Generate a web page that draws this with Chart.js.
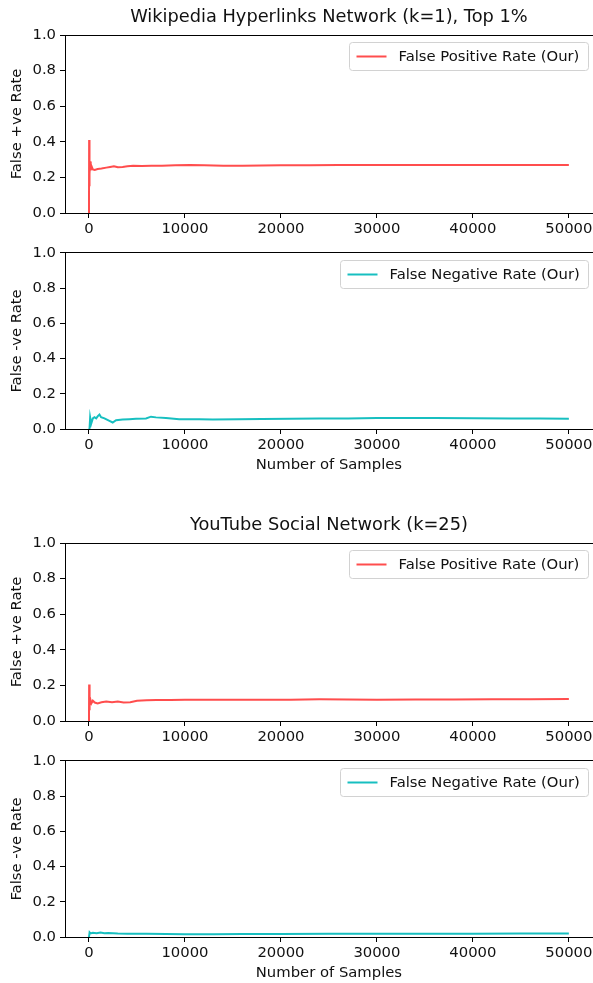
<!DOCTYPE html>
<html>
<head>
<meta charset="utf-8">
<script src="https://cdn.jsdelivr.net/npm/chart.js@4.4.1/dist/chart.umd.min.js"></script>
<style>
  html, body { margin: 0; padding: 0; background: #fff; width: 593px; height: 983px; overflow: hidden; }
  .panel { position: absolute; left: 0; }
  .panel canvas { display: block; }
</style>
</head>
<body>
<div class="panel" style="top:0px"><canvas id="wikiFp" width="595" height="240"></canvas></div>
<div class="panel" style="top:240px"><canvas id="wikiFn" width="595" height="237"></canvas></div>
<div class="panel" style="top:508px"><canvas id="ytFp" width="595" height="240"></canvas></div>
<div class="panel" style="top:748px"><canvas id="ytFn" width="595" height="235"></canvas></div>
<script>
// ---- data ----
const xTickValues = [0, 10000, 20000, 30000, 40000, 50000];
const yTickValues = [0, 0.2, 0.4, 0.6, 0.8, 1.0];

// Wikipedia Hyperlinks Network (k=1), Top 1%
const wikiFpSamples = [0, 15, 30, 50, 80, 120, 180, 250, 400, 600, 900, 1300, 1800, 2200, 2600, 3000, 3500, 4000, 4600, 5500, 6500, 7600, 9000, 10500, 12000, 14000, 16000, 18000, 20000, 23000, 26000, 29000, 32000, 35000, 38000, 41000, 44000, 47000, 50000];
const wikiFpRate = [0, 0.41, 0.15, 0.36, 0.22, 0.29, 0.24, 0.265, 0.245, 0.242, 0.247, 0.25, 0.255, 0.259, 0.263, 0.257, 0.259, 0.262, 0.265, 0.264, 0.265, 0.266, 0.268, 0.27, 0.268, 0.266, 0.266, 0.267, 0.268, 0.268, 0.269, 0.269, 0.27, 0.27, 0.27, 0.27, 0.27, 0.27, 0.27];

const wikiFnSamples = [0, 60, 120, 230, 400, 570, 750, 920, 1090, 1260, 1610, 2130, 2470, 2820, 3510, 4200, 4900, 5940, 6460, 6980, 8020, 9400, 11500, 12900, 15600, 18000, 21000, 24000, 27000, 30000, 33000, 36000, 40000, 44000, 47000, 50000];
const wikiFnRate = [0, 0.005, 0.065, 0.03, 0.06, 0.067, 0.06, 0.073, 0.082, 0.067, 0.06, 0.046, 0.037, 0.05, 0.054, 0.056, 0.058, 0.06, 0.07, 0.066, 0.062, 0.056, 0.056, 0.054, 0.055, 0.057, 0.058, 0.059, 0.06, 0.062, 0.063, 0.062, 0.061, 0.06, 0.059, 0.058];

// YouTube Social Network (k=25)
const ytFpSamples = [0, 15, 30, 60, 100, 150, 250, 400, 600, 900, 1300, 1800, 2400, 3000, 3600, 4300, 5000, 6000, 7000, 8500, 10000, 12000, 15000, 18000, 21000, 24000, 27000, 30000, 34000, 38000, 42000, 46000, 50000];
const ytFpRate = [0, 0.205, 0.06, 0.15, 0.09, 0.12, 0.099, 0.114, 0.104, 0.099, 0.105, 0.109, 0.106, 0.109, 0.104, 0.106, 0.114, 0.117, 0.118, 0.118, 0.12, 0.12, 0.119, 0.119, 0.12, 0.122, 0.121, 0.12, 0.121, 0.121, 0.122, 0.122, 0.123];

const ytFnSamples = [0, 60, 150, 400, 800, 1200, 1600, 2000, 3000, 4000, 6000, 8000, 10000, 13000, 16000, 20000, 25000, 30000, 35000, 40000, 45000, 50000];
const ytFnRate = [0, 0.026, 0.02, 0.024, 0.021, 0.025, 0.022, 0.023, 0.02, 0.019, 0.018, 0.017, 0.016, 0.016, 0.017, 0.017, 0.018, 0.018, 0.019, 0.019, 0.02, 0.02];

// ---- styling ----
const FONT = 'DejaVu Sans';
const TEXT = '#111111';
const RED = '#ff4d4d';
const CYAN = '#17bfc0';
const FS = 14.8;          // axis / legend text size
const TITLE_FS = 17.8;    // panel title size
Chart.defaults.font.family = FONT;
Chart.defaults.color = TEXT;

// Framed legend drawn inside the upper-right corner of the plot area
const boxedLegend = {
  id: 'boxedLegend',
  afterDatasetsDraw(chart) {
    const ds = chart.data.datasets[0];
    const area = chart.chartArea;
    const ctx = chart.ctx;
    ctx.save();
    ctx.font = FS + 'px "' + FONT + '"';
    const tw = ctx.measureText(ds.label).width;
    const padL = 7, handle = 30, gap = 12, padR = 9, h = 28;
    const w = padL + handle + gap + tw + padR;
    const x = Math.round(area.right - 5 - w) + 0.5;
    const y = Math.round(area.top + 7) + 0.5;
    ctx.beginPath();
    ctx.roundRect(x, y, Math.round(w), h, 3);
    ctx.fillStyle = 'rgba(255,255,255,0.8)';
    ctx.fill();
    ctx.strokeStyle = '#d2d2d2';
    ctx.lineWidth = 1;
    ctx.stroke();
    const cy = y + h / 2;
    ctx.beginPath();
    ctx.moveTo(x + padL, cy);
    ctx.lineTo(x + padL + handle, cy);
    ctx.strokeStyle = ds.borderColor;
    ctx.lineWidth = 2;
    ctx.stroke();
    ctx.fillStyle = TEXT;
    ctx.textBaseline = 'middle';
    ctx.textAlign = 'left';
    ctx.fillText(ds.label, x + padL + handle + gap, cy + 0.5);
    ctx.restore();
  }
};

function makePanel(id, o) {
  const canvas = document.getElementById(id);
  const xHeight = canvas.height - o.areaBottom;
  const points = o.samples.map((s, i) => ({ x: s, y: o.rates[i] }));
  const titleLine = TITLE_FS * 1.2;
  return new Chart(canvas, {
    type: 'line',
    data: {
      datasets: [{
        label: o.label,
        data: points,
        borderColor: o.color,
        borderWidth: 2,
        pointRadius: 0,
        tension: 0,
        fill: false
      }]
    },
    options: {
      responsive: false,
      animation: false,
      events: [],
      layout: { padding: { top: o.title ? 0 : o.areaTop, left: 0, right: 0, bottom: 0 } },
      plugins: {
        legend: { display: false },
        tooltip: { enabled: false },
        title: {
          display: !!o.title,
          fullSize: false,
          text: o.title || '',
          color: TEXT,
          font: { family: FONT, size: TITLE_FS, weight: 'normal' },
          padding: { top: 6.3, bottom: o.areaTop - 6.3 - titleLine }
        }
      },
      scales: {
        x: {
          type: 'linear',
          position: 'bottom',
          min: -2500,
          max: 52500,
          afterBuildTicks: s => { s.ticks = xTickValues.map(v => ({ value: v })); },
          afterFit: s => { s.height = xHeight; },
          ticks: {
            autoSkip: false,
            maxRotation: 0,
            padding: 2.5,
            color: TEXT,
            font: { family: FONT, size: FS },
            callback: v => String(v)
          },
          grid: { display: true, drawOnChartArea: false, drawTicks: true, tickLength: 5, color: '#000', lineWidth: 1 },
          border: { display: true, color: '#000', width: 1 },
          title: {
            display: !!o.xTitle,
            text: o.xTitle || '',
            color: TEXT,
            font: { family: FONT, size: FS },
            padding: { top: 0, bottom: xHeight - 36 - FS * 0.6 }
          }
        },
        xTop: {
          type: 'linear',
          position: 'top',
          min: -2500,
          max: 52500,
          afterFit: s => { s.height = 0; },
          ticks: { display: false },
          grid: { display: false, drawTicks: false },
          border: { display: true, color: '#000', width: 1 }
        },
        y: {
          type: 'linear',
          position: 'left',
          min: 0,
          max: 1,
          afterBuildTicks: s => { s.ticks = yTickValues.map(v => ({ value: v })); },
          afterFit: s => { s.width = 65; },
          ticks: {
            padding: 4,
            color: TEXT,
            font: { family: FONT, size: FS },
            callback: v => v.toFixed(1)
          },
          grid: { display: true, drawOnChartArea: false, drawTicks: true, tickLength: 5, color: '#000', lineWidth: 1 },
          border: { display: true, color: '#000', width: 1 },
          title: {
            display: true,
            text: o.yTitle,
            color: TEXT,
            font: { family: FONT, size: FS },
            padding: { top: 8, bottom: 0 }
          }
        }
      }
    },
    plugins: [boxedLegend]
  });
}

makePanel('wikiFp', {
  samples: wikiFpSamples, rates: wikiFpRate, color: RED,
  label: 'False Positive Rate (Our)', yTitle: 'False +ve Rate',
  title: 'Wikipedia Hyperlinks Network (k=1), Top 1%',
  areaTop: 35, areaBottom: 213
});
makePanel('wikiFn', {
  samples: wikiFnSamples, rates: wikiFnRate, color: CYAN,
  label: 'False Negative Rate (Our)', yTitle: 'False -ve Rate',
  xTitle: 'Number of Samples',
  areaTop: 10, areaBottom: 189
});
makePanel('ytFp', {
  samples: ytFpSamples, rates: ytFpRate, color: RED,
  label: 'False Positive Rate (Our)', yTitle: 'False +ve Rate',
  title: 'YouTube Social Network (k=25)',
  areaTop: 35, areaBottom: 213
});
makePanel('ytFn', {
  samples: ytFnSamples, rates: ytFnRate, color: CYAN,
  label: 'False Negative Rate (Our)', yTitle: 'False -ve Rate',
  xTitle: 'Number of Samples',
  areaTop: 10, areaBottom: 189
});
</script>
</body>
</html>
